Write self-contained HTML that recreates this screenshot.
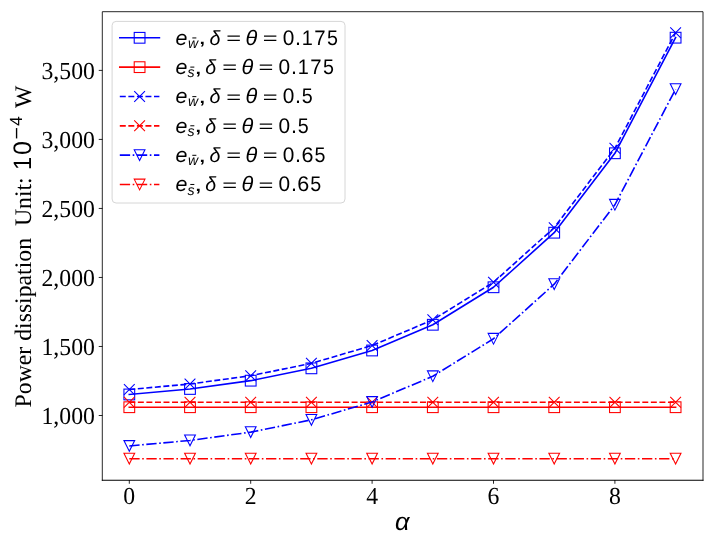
<!DOCTYPE html>
<html><head><meta charset="utf-8"><style>
html,body{margin:0;padding:0;background:#fff;}
svg{display:block;will-change:transform;text-rendering:geometricPrecision;}
.tk{font-family:"Liberation Serif",serif;fill:#000;}
.sa{font-family:"Liberation Sans",sans-serif;fill:#000;}
.mi{font-family:"Liberation Sans",sans-serif;font-style:italic;fill:#000;}
</style></head><body>
<svg width="714" height="542" viewBox="0 0 714 542">
<rect width="714" height="542" fill="#fff"/>
<polyline points="129.30,394.48 190.00,388.95 250.70,380.67 311.40,368.33 372.10,350.48 432.80,324.77 493.50,287.26 554.20,232.69 614.90,153.27 675.60,37.68" fill="none" stroke="#0000ff" stroke-width="1.613" stroke-linecap="square" stroke-linejoin="round"/>
<rect x="123.93" y="389.10" width="10.75" height="10.75" fill="none" stroke="#0000ff" stroke-width="1.075"/>
<rect x="184.62" y="383.58" width="10.75" height="10.75" fill="none" stroke="#0000ff" stroke-width="1.075"/>
<rect x="245.33" y="375.30" width="10.75" height="10.75" fill="none" stroke="#0000ff" stroke-width="1.075"/>
<rect x="306.03" y="362.96" width="10.75" height="10.75" fill="none" stroke="#0000ff" stroke-width="1.075"/>
<rect x="366.73" y="345.11" width="10.75" height="10.75" fill="none" stroke="#0000ff" stroke-width="1.075"/>
<rect x="427.43" y="319.39" width="10.75" height="10.75" fill="none" stroke="#0000ff" stroke-width="1.075"/>
<rect x="488.13" y="281.89" width="10.75" height="10.75" fill="none" stroke="#0000ff" stroke-width="1.075"/>
<rect x="548.83" y="227.32" width="10.75" height="10.75" fill="none" stroke="#0000ff" stroke-width="1.075"/>
<rect x="609.53" y="147.89" width="10.75" height="10.75" fill="none" stroke="#0000ff" stroke-width="1.075"/>
<rect x="670.23" y="32.31" width="10.75" height="10.75" fill="none" stroke="#0000ff" stroke-width="1.075"/>
<polyline points="129.30,407.22 190.00,407.22 250.70,407.22 311.40,407.22 372.10,407.22 432.80,407.22 493.50,407.22 554.20,407.22 614.90,407.22 675.60,407.22" fill="none" stroke="#ff0000" stroke-width="1.613" stroke-linecap="square" stroke-linejoin="round"/>
<rect x="123.93" y="401.84" width="10.75" height="10.75" fill="none" stroke="#ff0000" stroke-width="1.075"/>
<rect x="184.62" y="401.84" width="10.75" height="10.75" fill="none" stroke="#ff0000" stroke-width="1.075"/>
<rect x="245.33" y="401.84" width="10.75" height="10.75" fill="none" stroke="#ff0000" stroke-width="1.075"/>
<rect x="306.03" y="401.84" width="10.75" height="10.75" fill="none" stroke="#ff0000" stroke-width="1.075"/>
<rect x="366.73" y="401.84" width="10.75" height="10.75" fill="none" stroke="#ff0000" stroke-width="1.075"/>
<rect x="427.43" y="401.84" width="10.75" height="10.75" fill="none" stroke="#ff0000" stroke-width="1.075"/>
<rect x="488.13" y="401.84" width="10.75" height="10.75" fill="none" stroke="#ff0000" stroke-width="1.075"/>
<rect x="548.83" y="401.84" width="10.75" height="10.75" fill="none" stroke="#ff0000" stroke-width="1.075"/>
<rect x="609.53" y="401.84" width="10.75" height="10.75" fill="none" stroke="#ff0000" stroke-width="1.075"/>
<rect x="670.23" y="401.84" width="10.75" height="10.75" fill="none" stroke="#ff0000" stroke-width="1.075"/>
<polyline points="129.30,389.51 190.00,383.99 250.70,375.70 311.40,363.36 372.10,345.51 432.80,319.80 493.50,282.29 554.20,227.72 614.90,148.30 675.60,32.72" fill="none" stroke="#0000ff" stroke-width="1.613" stroke-dasharray="5.97 2.58" stroke-linecap="butt" stroke-linejoin="round"/>
<path d="M123.93,384.13L134.68,394.88M123.93,394.88L134.68,384.13" fill="none" stroke="#0000ff" stroke-width="1.075"/>
<path d="M184.62,378.61L195.38,389.36M184.62,389.36L195.38,378.61" fill="none" stroke="#0000ff" stroke-width="1.075"/>
<path d="M245.33,370.33L256.08,381.08M245.33,381.08L256.08,370.33" fill="none" stroke="#0000ff" stroke-width="1.075"/>
<path d="M306.03,357.99L316.78,368.74M306.03,368.74L316.78,357.99" fill="none" stroke="#0000ff" stroke-width="1.075"/>
<path d="M366.73,340.14L377.48,350.89M366.73,350.89L377.48,340.14" fill="none" stroke="#0000ff" stroke-width="1.075"/>
<path d="M427.43,314.42L438.18,325.17M427.43,325.17L438.18,314.42" fill="none" stroke="#0000ff" stroke-width="1.075"/>
<path d="M488.13,276.92L498.88,287.67M488.13,287.67L498.88,276.92" fill="none" stroke="#0000ff" stroke-width="1.075"/>
<path d="M548.83,222.35L559.58,233.10M548.83,233.10L559.58,222.35" fill="none" stroke="#0000ff" stroke-width="1.075"/>
<path d="M609.53,142.92L620.28,153.67M609.53,153.67L620.28,142.92" fill="none" stroke="#0000ff" stroke-width="1.075"/>
<path d="M670.23,27.34L680.98,38.09M670.23,38.09L680.98,27.34" fill="none" stroke="#0000ff" stroke-width="1.075"/>
<polyline points="129.30,402.25 190.00,402.25 250.70,402.25 311.40,402.25 372.10,402.25 432.80,402.25 493.50,402.25 554.20,402.25 614.90,402.25 675.60,402.25" fill="none" stroke="#ff0000" stroke-width="1.613" stroke-dasharray="5.97 2.58" stroke-linecap="butt" stroke-linejoin="round"/>
<path d="M123.93,396.87L134.68,407.62M123.93,407.62L134.68,396.87" fill="none" stroke="#ff0000" stroke-width="1.075"/>
<path d="M184.62,396.87L195.38,407.62M184.62,407.62L195.38,396.87" fill="none" stroke="#ff0000" stroke-width="1.075"/>
<path d="M245.33,396.87L256.08,407.62M245.33,407.62L256.08,396.87" fill="none" stroke="#ff0000" stroke-width="1.075"/>
<path d="M306.03,396.87L316.78,407.62M306.03,407.62L316.78,396.87" fill="none" stroke="#ff0000" stroke-width="1.075"/>
<path d="M366.73,396.87L377.48,407.62M366.73,407.62L377.48,396.87" fill="none" stroke="#ff0000" stroke-width="1.075"/>
<path d="M427.43,396.87L438.18,407.62M427.43,407.62L438.18,396.87" fill="none" stroke="#ff0000" stroke-width="1.075"/>
<path d="M488.13,396.87L498.88,407.62M488.13,407.62L498.88,396.87" fill="none" stroke="#ff0000" stroke-width="1.075"/>
<path d="M548.83,396.87L559.58,407.62M548.83,407.62L559.58,396.87" fill="none" stroke="#ff0000" stroke-width="1.075"/>
<path d="M609.53,396.87L620.28,407.62M609.53,407.62L620.28,396.87" fill="none" stroke="#ff0000" stroke-width="1.075"/>
<path d="M670.23,396.87L680.98,407.62M670.23,407.62L680.98,396.87" fill="none" stroke="#ff0000" stroke-width="1.075"/>
<polyline points="129.30,445.97 190.00,440.44 250.70,432.16 311.40,419.82 372.10,401.97 432.80,376.26 493.50,338.75 554.20,284.18 614.90,204.75 675.60,89.17" fill="none" stroke="#0000ff" stroke-width="1.613" stroke-dasharray="10.32 2.58 1.61 2.58" stroke-linecap="butt" stroke-linejoin="round"/>
<path d="M129.30,451.34L123.93,440.59L134.68,440.59Z" fill="none" stroke="#0000ff" stroke-width="1.075" stroke-linejoin="miter"/>
<path d="M190.00,445.82L184.62,435.07L195.38,435.07Z" fill="none" stroke="#0000ff" stroke-width="1.075" stroke-linejoin="miter"/>
<path d="M250.70,437.54L245.33,426.79L256.08,426.79Z" fill="none" stroke="#0000ff" stroke-width="1.075" stroke-linejoin="miter"/>
<path d="M311.40,425.20L306.03,414.45L316.78,414.45Z" fill="none" stroke="#0000ff" stroke-width="1.075" stroke-linejoin="miter"/>
<path d="M372.10,407.35L366.73,396.60L377.48,396.60Z" fill="none" stroke="#0000ff" stroke-width="1.075" stroke-linejoin="miter"/>
<path d="M432.80,381.63L427.43,370.88L438.18,370.88Z" fill="none" stroke="#0000ff" stroke-width="1.075" stroke-linejoin="miter"/>
<path d="M493.50,344.12L488.13,333.37L498.88,333.37Z" fill="none" stroke="#0000ff" stroke-width="1.075" stroke-linejoin="miter"/>
<path d="M554.20,289.56L548.83,278.81L559.58,278.81Z" fill="none" stroke="#0000ff" stroke-width="1.075" stroke-linejoin="miter"/>
<path d="M614.90,210.13L609.53,199.38L620.28,199.38Z" fill="none" stroke="#0000ff" stroke-width="1.075" stroke-linejoin="miter"/>
<path d="M675.60,94.55L670.23,83.80L680.98,83.80Z" fill="none" stroke="#0000ff" stroke-width="1.075" stroke-linejoin="miter"/>
<polyline points="129.30,458.71 190.00,458.71 250.70,458.71 311.40,458.71 372.10,458.71 432.80,458.71 493.50,458.71 554.20,458.71 614.90,458.71 675.60,458.71" fill="none" stroke="#ff0000" stroke-width="1.613" stroke-dasharray="10.32 2.58 1.61 2.58" stroke-linecap="butt" stroke-linejoin="round"/>
<path d="M129.30,464.08L123.93,453.33L134.68,453.33Z" fill="none" stroke="#ff0000" stroke-width="1.075" stroke-linejoin="miter"/>
<path d="M190.00,464.08L184.62,453.33L195.38,453.33Z" fill="none" stroke="#ff0000" stroke-width="1.075" stroke-linejoin="miter"/>
<path d="M250.70,464.08L245.33,453.33L256.08,453.33Z" fill="none" stroke="#ff0000" stroke-width="1.075" stroke-linejoin="miter"/>
<path d="M311.40,464.08L306.03,453.33L316.78,453.33Z" fill="none" stroke="#ff0000" stroke-width="1.075" stroke-linejoin="miter"/>
<path d="M372.10,464.08L366.73,453.33L377.48,453.33Z" fill="none" stroke="#ff0000" stroke-width="1.075" stroke-linejoin="miter"/>
<path d="M432.80,464.08L427.43,453.33L438.18,453.33Z" fill="none" stroke="#ff0000" stroke-width="1.075" stroke-linejoin="miter"/>
<path d="M493.50,464.08L488.13,453.33L498.88,453.33Z" fill="none" stroke="#ff0000" stroke-width="1.075" stroke-linejoin="miter"/>
<path d="M554.20,464.08L548.83,453.33L559.58,453.33Z" fill="none" stroke="#ff0000" stroke-width="1.075" stroke-linejoin="miter"/>
<path d="M614.90,464.08L609.53,453.33L620.28,453.33Z" fill="none" stroke="#ff0000" stroke-width="1.075" stroke-linejoin="miter"/>
<path d="M675.60,464.08L670.23,453.33L680.98,453.33Z" fill="none" stroke="#ff0000" stroke-width="1.075" stroke-linejoin="miter"/>
<path d="M102.3,480.3V11.7H703.0V480.3" fill="none" stroke="#000" stroke-width="0.85" stroke-linecap="square"/>
<path d="M101.85,480.2H703.45" fill="none" stroke="#000" stroke-width="1.1"/>
<line x1="129.30" y1="480.0" x2="129.30" y2="483.76" stroke="#000" stroke-width="0.85"/>
<text transform="translate(129.30,504.0) scale(1.0,1.03)" class="tk" font-size="23.74" text-anchor="middle">0</text>
<line x1="250.70" y1="480.0" x2="250.70" y2="483.76" stroke="#000" stroke-width="0.85"/>
<text transform="translate(250.70,504.0) scale(1.0,1.03)" class="tk" font-size="23.74" text-anchor="middle">2</text>
<line x1="372.10" y1="480.0" x2="372.10" y2="483.76" stroke="#000" stroke-width="0.85"/>
<text transform="translate(372.10,504.0) scale(1.0,1.03)" class="tk" font-size="23.74" text-anchor="middle">4</text>
<line x1="493.50" y1="480.0" x2="493.50" y2="483.76" stroke="#000" stroke-width="0.85"/>
<text transform="translate(493.50,504.0) scale(1.0,1.03)" class="tk" font-size="23.74" text-anchor="middle">6</text>
<line x1="614.90" y1="480.0" x2="614.90" y2="483.76" stroke="#000" stroke-width="0.85"/>
<text transform="translate(614.90,504.0) scale(1.0,1.03)" class="tk" font-size="23.74" text-anchor="middle">8</text>
<line x1="98.74" y1="415.50" x2="102.5" y2="415.50" stroke="#000" stroke-width="0.85"/>
<text transform="translate(94.9,424.00) scale(1.0,1.03)" class="tk" font-size="23.74" text-anchor="end">1,000</text>
<line x1="98.74" y1="346.48" x2="102.5" y2="346.48" stroke="#000" stroke-width="0.85"/>
<text transform="translate(94.9,354.98) scale(1.0,1.03)" class="tk" font-size="23.74" text-anchor="end">1,500</text>
<line x1="98.74" y1="277.46" x2="102.5" y2="277.46" stroke="#000" stroke-width="0.85"/>
<text transform="translate(94.9,285.96) scale(1.0,1.03)" class="tk" font-size="23.74" text-anchor="end">2,000</text>
<line x1="98.74" y1="208.44" x2="102.5" y2="208.44" stroke="#000" stroke-width="0.85"/>
<text transform="translate(94.9,216.94) scale(1.0,1.03)" class="tk" font-size="23.74" text-anchor="end">2,500</text>
<line x1="98.74" y1="139.42" x2="102.5" y2="139.42" stroke="#000" stroke-width="0.85"/>
<text transform="translate(94.9,147.92) scale(1.0,1.03)" class="tk" font-size="23.74" text-anchor="end">3,000</text>
<line x1="98.74" y1="70.40" x2="102.5" y2="70.40" stroke="#000" stroke-width="0.85"/>
<text transform="translate(94.9,78.90) scale(1.0,1.03)" class="tk" font-size="23.74" text-anchor="end">3,500</text>
<text class="mi" font-size="24" transform="translate(395.08,529.64) scale(1.061,1.032)">α</text>
<g transform="translate(30.8,407.4) rotate(-90)">
<text x="0" y="0" class="tk" font-size="23.74">Power dissipation&#160;&#160;Unit: </text>
<text class="sa" font-size="24" transform="translate(237.49,0.00) scale(0.996,1.048)">1</text>
<text class="sa" font-size="24" transform="translate(252.39,0.09) scale(1.043,1.057)">0</text>
<text class="sa" font-size="17" transform="translate(267.84,-7.86) scale(1.259,1.138)">−</text>
<text class="sa" font-size="17" transform="translate(281.47,-9.09) scale(1.031,1.036)">4</text>
<text x="299.39" y="0" class="tk" font-size="23.74">W</text>
</g>
<rect x="112.1" y="21.4" width="232.9" height="181.6" rx="4" ry="4" fill="#fff" fill-opacity="0.8" stroke="#d6d6d6" stroke-width="1"/>
<line x1="119.8" y1="37.80" x2="159.4" y2="37.80" stroke="#0000ff" stroke-width="1.613" stroke-linecap="square" stroke-linejoin="round"/>
<rect x="134.22" y="32.42" width="10.75" height="10.75" fill="none" stroke="#0000ff" stroke-width="1.075"/>
<text class="mi" font-size="20" transform="translate(175.49,44.58) scale(1.070,1.037)">e</text>
<rect x="192.31" y="37.44" width="4.04" height="1.00" fill="#000"/>
<text class="mi" font-size="14" transform="translate(187.95,47.75) scale(1.000,1.024)">w</text>
<text class="sa" font-size="20" transform="translate(198.27,44.21) scale(1.442,1.012)">,</text>
<text class="mi" font-size="20" transform="translate(209.40,44.58) scale(0.983,1.019)">δ</text>
<text class="sa" font-size="20" transform="translate(226.28,44.01) scale(1.274,0.866)">=</text>
<text class="mi" font-size="20" transform="translate(245.58,44.52) scale(1.087,1.049)">θ</text>
<text class="sa" font-size="20" transform="translate(262.66,44.01) scale(1.274,0.866)">=</text>
<text class="sa" font-size="20" transform="translate(282.73,44.57) scale(1.043,1.057)">0</text>
<text class="sa" font-size="20" transform="translate(294.99,44.50) scale(1.070,1.147)">.</text>
<text class="sa" font-size="20" transform="translate(301.77,44.50) scale(0.996,1.048)">1</text>
<text class="sa" font-size="20" transform="translate(314.27,44.50) scale(1.020,1.048)">7</text>
<text class="sa" font-size="20" transform="translate(327.02,44.57) scale(0.984,1.053)">5</text>
<line x1="119.8" y1="67.14" x2="159.4" y2="67.14" stroke="#ff0000" stroke-width="1.613" stroke-linecap="square" stroke-linejoin="round"/>
<rect x="134.22" y="61.77" width="10.75" height="10.75" fill="none" stroke="#ff0000" stroke-width="1.075"/>
<text class="mi" font-size="20" transform="translate(175.49,73.92) scale(1.070,1.037)">e</text>
<rect x="190.29" y="66.60" width="4.04" height="1.00" fill="#000"/>
<text class="mi" font-size="14" transform="translate(187.59,77.14) scale(1.013,1.039)">s</text>
<text class="sa" font-size="20" transform="translate(194.16,73.55) scale(1.442,1.012)">,</text>
<text class="mi" font-size="20" transform="translate(205.29,73.92) scale(0.983,1.019)">δ</text>
<text class="sa" font-size="20" transform="translate(222.17,73.35) scale(1.274,0.866)">=</text>
<text class="mi" font-size="20" transform="translate(241.47,73.86) scale(1.087,1.049)">θ</text>
<text class="sa" font-size="20" transform="translate(258.55,73.35) scale(1.274,0.866)">=</text>
<text class="sa" font-size="20" transform="translate(278.62,73.91) scale(1.043,1.057)">0</text>
<text class="sa" font-size="20" transform="translate(290.88,73.84) scale(1.070,1.147)">.</text>
<text class="sa" font-size="20" transform="translate(297.66,73.84) scale(0.996,1.048)">1</text>
<text class="sa" font-size="20" transform="translate(310.16,73.84) scale(1.020,1.048)">7</text>
<text class="sa" font-size="20" transform="translate(322.91,73.91) scale(0.984,1.053)">5</text>
<line x1="119.8" y1="96.48" x2="159.4" y2="96.48" stroke="#0000ff" stroke-width="1.613" stroke-dasharray="5.97 2.58" stroke-linecap="butt" stroke-linejoin="round"/>
<path d="M134.22,91.10L144.97,101.85M134.22,101.85L144.97,91.10" fill="none" stroke="#0000ff" stroke-width="1.075"/>
<text class="mi" font-size="20" transform="translate(175.49,103.26) scale(1.070,1.037)">e</text>
<rect x="192.31" y="96.12" width="4.04" height="1.00" fill="#000"/>
<text class="mi" font-size="14" transform="translate(187.95,106.43) scale(1.000,1.024)">w</text>
<text class="sa" font-size="20" transform="translate(198.27,102.89) scale(1.442,1.012)">,</text>
<text class="mi" font-size="20" transform="translate(209.40,103.26) scale(0.983,1.019)">δ</text>
<text class="sa" font-size="20" transform="translate(226.28,102.69) scale(1.274,0.866)">=</text>
<text class="mi" font-size="20" transform="translate(245.58,103.20) scale(1.087,1.049)">θ</text>
<text class="sa" font-size="20" transform="translate(262.66,102.69) scale(1.274,0.866)">=</text>
<text class="sa" font-size="20" transform="translate(282.73,103.25) scale(1.043,1.057)">0</text>
<text class="sa" font-size="20" transform="translate(294.99,103.18) scale(1.070,1.147)">.</text>
<text class="sa" font-size="20" transform="translate(301.85,103.25) scale(0.984,1.053)">5</text>
<line x1="119.8" y1="125.82" x2="159.4" y2="125.82" stroke="#ff0000" stroke-width="1.613" stroke-dasharray="5.97 2.58" stroke-linecap="butt" stroke-linejoin="round"/>
<path d="M134.22,120.44L144.97,131.19M134.22,131.19L144.97,120.44" fill="none" stroke="#ff0000" stroke-width="1.075"/>
<text class="mi" font-size="20" transform="translate(175.49,132.60) scale(1.070,1.037)">e</text>
<rect x="190.29" y="125.28" width="4.04" height="1.00" fill="#000"/>
<text class="mi" font-size="14" transform="translate(187.59,135.82) scale(1.013,1.039)">s</text>
<text class="sa" font-size="20" transform="translate(194.16,132.23) scale(1.442,1.012)">,</text>
<text class="mi" font-size="20" transform="translate(205.29,132.60) scale(0.983,1.019)">δ</text>
<text class="sa" font-size="20" transform="translate(222.17,132.03) scale(1.274,0.866)">=</text>
<text class="mi" font-size="20" transform="translate(241.47,132.54) scale(1.087,1.049)">θ</text>
<text class="sa" font-size="20" transform="translate(258.55,132.03) scale(1.274,0.866)">=</text>
<text class="sa" font-size="20" transform="translate(278.62,132.59) scale(1.043,1.057)">0</text>
<text class="sa" font-size="20" transform="translate(290.88,132.52) scale(1.070,1.147)">.</text>
<text class="sa" font-size="20" transform="translate(297.74,132.59) scale(0.984,1.053)">5</text>
<line x1="119.8" y1="155.16" x2="159.4" y2="155.16" stroke="#0000ff" stroke-width="1.613" stroke-dasharray="10.32 2.58 1.61 2.58" stroke-linecap="butt" stroke-linejoin="round"/>
<path d="M139.60,160.53L134.22,149.78L144.97,149.78Z" fill="none" stroke="#0000ff" stroke-width="1.075" stroke-linejoin="miter"/>
<text class="mi" font-size="20" transform="translate(175.49,161.94) scale(1.070,1.037)">e</text>
<rect x="192.31" y="154.80" width="4.04" height="1.00" fill="#000"/>
<text class="mi" font-size="14" transform="translate(187.95,165.11) scale(1.000,1.024)">w</text>
<text class="sa" font-size="20" transform="translate(198.27,161.57) scale(1.442,1.012)">,</text>
<text class="mi" font-size="20" transform="translate(209.40,161.94) scale(0.983,1.019)">δ</text>
<text class="sa" font-size="20" transform="translate(226.28,161.37) scale(1.274,0.866)">=</text>
<text class="mi" font-size="20" transform="translate(245.58,161.88) scale(1.087,1.049)">θ</text>
<text class="sa" font-size="20" transform="translate(262.66,161.37) scale(1.274,0.866)">=</text>
<text class="sa" font-size="20" transform="translate(282.73,161.93) scale(1.043,1.057)">0</text>
<text class="sa" font-size="20" transform="translate(294.99,161.86) scale(1.070,1.147)">.</text>
<text class="sa" font-size="20" transform="translate(301.40,161.93) scale(1.079,1.057)">6</text>
<text class="sa" font-size="20" transform="translate(314.44,161.93) scale(0.984,1.053)">5</text>
<line x1="119.8" y1="184.50" x2="159.4" y2="184.50" stroke="#ff0000" stroke-width="1.613" stroke-dasharray="10.32 2.58 1.61 2.58" stroke-linecap="butt" stroke-linejoin="round"/>
<path d="M139.60,189.88L134.22,179.12L144.97,179.12Z" fill="none" stroke="#ff0000" stroke-width="1.075" stroke-linejoin="miter"/>
<text class="mi" font-size="20" transform="translate(175.49,191.28) scale(1.070,1.037)">e</text>
<rect x="190.29" y="183.96" width="4.04" height="1.00" fill="#000"/>
<text class="mi" font-size="14" transform="translate(187.59,194.50) scale(1.013,1.039)">s</text>
<text class="sa" font-size="20" transform="translate(194.16,190.91) scale(1.442,1.012)">,</text>
<text class="mi" font-size="20" transform="translate(205.29,191.28) scale(0.983,1.019)">δ</text>
<text class="sa" font-size="20" transform="translate(222.17,190.71) scale(1.274,0.866)">=</text>
<text class="mi" font-size="20" transform="translate(241.47,191.22) scale(1.087,1.049)">θ</text>
<text class="sa" font-size="20" transform="translate(258.55,190.71) scale(1.274,0.866)">=</text>
<text class="sa" font-size="20" transform="translate(278.62,191.27) scale(1.043,1.057)">0</text>
<text class="sa" font-size="20" transform="translate(290.88,191.20) scale(1.070,1.147)">.</text>
<text class="sa" font-size="20" transform="translate(297.29,191.27) scale(1.079,1.057)">6</text>
<text class="sa" font-size="20" transform="translate(310.32,191.27) scale(0.984,1.053)">5</text>
</svg>
</body></html>
